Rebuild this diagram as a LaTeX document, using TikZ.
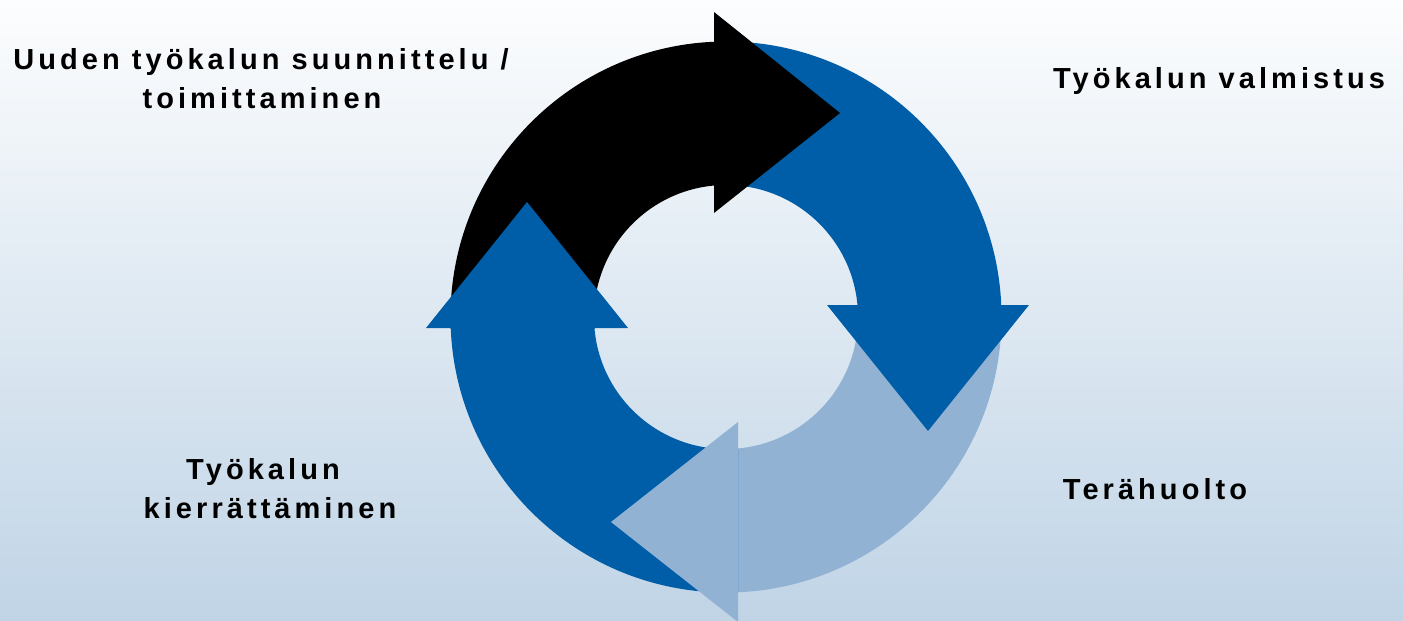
\documentclass[tikz,border=0pt]{standalone}
\usepackage{fontspec}
\setmainfont{Liberation Sans}
\newfontfamily\lblfont{Liberation Sans}[LetterSpace=14]
\definecolor{ringblue}{HTML}{005EA8}
\definecolor{ringlight}{HTML}{92B2D4}
\definecolor{bgtop}{HTML}{FCFDFE}
\definecolor{bgbot}{HTML}{C0D4E6}
\tikzset{
  lbl/.style={font=\lblfont\bfseries\fontsize{29}{35}\selectfont, text=black, inner sep=0pt, anchor=base},
}
\begin{document}
\begin{tikzpicture}[x=1pt,y=-1pt]
\shade[top color=bgtop, bottom color=bgbot] (0,0) rectangle (1403,621);
\useasboundingbox (0,0) rectangle (1403,621);
\coordinate (c) at (726,317);
% bodies (each runs a little under its own head to avoid seams)
\begin{scope}
  \clip (0,0) rectangle (716,328);
  \fill[black, even odd rule] (c) circle[radius=275.5pt] (c) circle[radius=132pt];
\end{scope}
\begin{scope}
  \clip (714,0) rectangle (1403,307);
  \fill[ringblue, even odd rule] (c) circle[radius=275.5pt] (c) circle[radius=132pt];
\end{scope}
\begin{scope}
  \clip (736,305) rectangle (1403,621);
  \fill[ringlight, even odd rule] (c) circle[radius=275.5pt] (c) circle[radius=132pt];
\end{scope}
\begin{scope}
  \clip (0,326) rectangle (738,621);
  \fill[ringblue, even odd rule] (c) circle[radius=275.5pt] (c) circle[radius=132pt];
\end{scope}
% heads
\fill[black] (714,12) -- (840,113) -- (714,213) -- cycle;
\fill[ringblue] (827,305) -- (928,431) -- (1029,305) -- cycle;
\fill[ringlight] (738,422) -- (611,522) -- (738,622) -- cycle;
\fill[ringblue] (426,328) -- (527,202) -- (628,328) -- cycle;
% labels
\node[lbl] (l1a) at (261,69) {Uuden työkalun suunnittelu /};
\node[lbl] (l1b) at (262,108) {toimittaminen};
\node[lbl] (l2) at (1219,88) {Työkalun valmistus};
\node[lbl] (l3) at (1155,499) {Terähuolto};
\node[lbl] (l4a) at (263,479) {Työkalun};
\node[lbl] (l4b) at (270,518) {kierrättäminen};
\end{tikzpicture}
\end{document}
